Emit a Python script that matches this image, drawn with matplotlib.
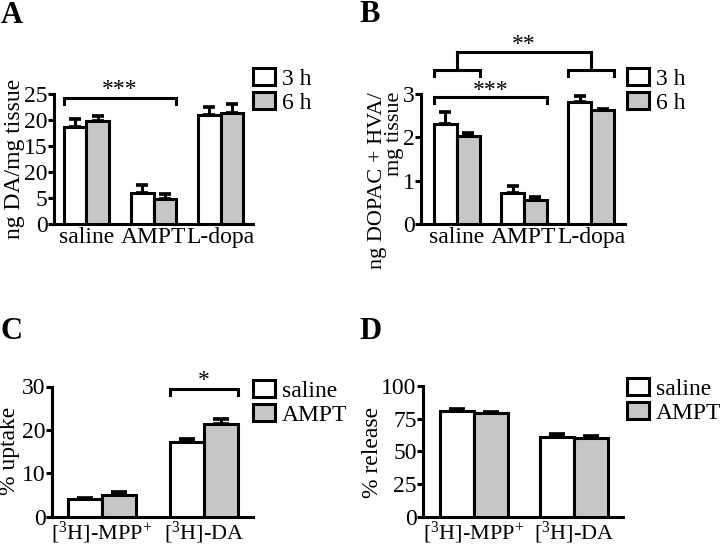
import numpy as np
import matplotlib.pyplot as plt

plt.rcParams['font.family'] = ['Liberation Serif', 'DejaVu Serif']
plt.rcParams['mathtext.fontset'] = 'custom'
plt.rcParams['mathtext.rm'] = 'Liberation Serif'
plt.rcParams['mathtext.it'] = 'Liberation Serif:italic'

# Panel A: DA content
a_groups = ['saline', 'AMPT', 'L-dopa']
a_3h = [18.7, 6.0, 20.9]
a_3h_err = [1.4, 1.5, 1.6]
a_6h = [19.8, 4.75, 21.4]
a_6h_err = [1.0, 0.95, 1.6]
a_yticks = [0, 5, 10, 15, 20, 25]
a_yticklabels = ['0', '5', '20', '15', '20', '25']

# Panel B: DOPAC + HVA content
b_groups = ['saline', 'AMPT', 'L-dopa']
b_3h = [2.30, 0.71, 2.82]
b_3h_err = [0.29, 0.17, 0.13]
b_6h = [2.03, 0.55, 2.62]
b_6h_err = [0.06, 0.07, 0.04]
b_yticks = [0, 1, 2, 3]

# Panel C: uptake
c_groups = [r'[$\mathregular{^{3}}$H]-MPP$\mathregular{^{+}}$', r'[$\mathregular{^{3}}$H]-DA']
c_saline = [4.0, 17.1]
c_saline_err = [0.4, 0.8]
c_ampt = [5.0, 21.4]
c_ampt_err = [0.7, 1.1]
c_yticks = [0, 10, 20, 30]

# Panel D: release
d_groups = c_groups
d_saline = [80.9, 61.2]
d_saline_err = [1.5, 2.3]
d_ampt = [79.1, 59.9]
d_ampt_err = [0.7, 2.1]
d_yticks = [0, 25, 50, 75, 100]

W, H = 720, 548
GRAY = '#c6c6c6'
LW = 2.2
FS = 17

fig = plt.figure(figsize=(W / 100, H / 100), dpi=100)


def px_axes(left, right, bottom, top):
    return fig.add_axes([left / W, 1 - bottom / H, (right - left) / W, (bottom - top) / H])


def bar_panel(ax, groups, s1, e1, s2, e2, width, capsize, xlim, ylim, yticks,
              yticklabels=None, xfs=FS):
    x = np.arange(len(groups))
    b1 = ax.bar(x - width / 2, s1, width, color='white', edgecolor='black', linewidth=LW, zorder=3)
    b2 = ax.bar(x + width / 2, s2, width, color=GRAY, edgecolor='black', linewidth=LW, zorder=3)
    for xs, vals, errs in [(x - width / 2, s1, e1), (x + width / 2, s2, e2)]:
        ax.errorbar(xs, vals, yerr=[np.zeros(len(errs)), errs], fmt='none', ecolor='black',
                    elinewidth=LW, capsize=capsize, capthick=LW * 1.2, zorder=2)
    ax.set_xlim(*xlim)
    ax.set_ylim(*ylim)
    ax.set_xticks(x)
    ax.set_xticklabels(groups, fontsize=xfs)
    ax.set_yticks(yticks)
    ax.set_yticklabels(yticklabels if yticklabels else [str(t) for t in yticks], fontsize=FS)
    ax.tick_params(axis='x', length=0, pad=2)
    ax.tick_params(axis='y', length=4, width=LW, pad=0.5)
    for side in ['top', 'right']:
        ax.spines[side].set_visible(False)
    for side in ['left', 'bottom']:
        ax.spines[side].set_linewidth(LW)
    ax.spines['left'].set_capstyle('projecting')
    ax.patch.set_visible(False)
    return b1, b2


def bracket(ax, x0, x1, y, drop, text=None, text_pad=0.0):
    ax.plot([x0, x0, x1, x1], [y - drop, y, y, y - drop], color='black', lw=LW,
            clip_on=False, solid_joinstyle='miter')
    if text:
        ax.text((x0 + x1) / 2, y + text_pad, text, ha='center', va='bottom', fontsize=FS)


def legend(ax, handles, labels, px, py):
    ax.legend(handles, labels, loc='upper left', bbox_to_anchor=(px / W, 1 - py / H),
              bbox_transform=fig.transFigure, frameon=False, fontsize=FS,
              handlelength=0.92, handleheight=0.74, handletextpad=0.3, labelspacing=0.1,
              borderpad=0, borderaxespad=0)


# ---- A ----
axA = px_axes(54, 253, 224, 94)
wA = 0.343
hA = bar_panel(axA, a_groups, a_3h, a_3h_err, a_6h, a_6h_err, wA, 4.3,
               (-0.485, 2.485), (0, 25), a_yticks, a_yticklabels)
bracket(axA, 0 - wA, 1 + wA, 24.3, 1.2, '***', -0.4)
legend(axA, hA, ['3 h', '6 h'], 253, 68)
fig.text(15 / W, 1 - 159 / H, 'ng DA/mg tissue', rotation=90, ha='center', va='center', fontsize=FS)
fig.text(1 / W, 1 - 1 / H, 'A', fontsize=22, fontweight='bold', ha='left', va='top')

# ---- B ----
axB = px_axes(421, 625, 224, 94)
wB = 0.343
hB = bar_panel(axB, b_groups, b_3h, b_3h_err, b_6h, b_6h_err, wB, 4.3,
               (-0.537, 2.507), (0, 3), b_yticks)
bracket(axB, 0 - wB, 1 + wB, 2.92, 0.13, '***', -0.07)
# group comparison saline vs L-dopa
for g in [0, 2]:
    bracket(axB, g - wB, g + wB, 3.55, 0.14)
    axB.plot([g, g], [3.55, 3.97], color='black', lw=LW, clip_on=False)
bracket(axB, 0, 2, 3.97, 0.0, '**', -0.08)
legend(axB, hB, ['3 h', '6 h'], 627, 68)
fig.text(386 / W, 1 - 92 / H, 'ng DOPAC + HVA/\nmg tissue', rotation=90, ha='center', va='top',
         multialignment='right', fontsize=16, linespacing=0.88)
fig.text(359 / W, 1 - 0 / H, 'B', fontsize=22, fontweight='bold', ha='left', va='top')

# ---- C ----
axC = px_axes(52, 253, 516.7, 386.5)
wC = 0.333
hC = bar_panel(axC, c_groups, c_saline, c_saline_err, c_ampt, c_ampt_err, wC, 5.5,
               (-0.49, 1.48), (0, 30), c_yticks, xfs=16)
bracket(axC, 1 - wC, 1 + wC, 29.5, 1.4, '*', -0.5)
legend(axC, hC, ['saline', 'AMPT'], 253, 380)
fig.text(10 / W, 1 - 451 / H, '% uptake', rotation=90, ha='center', va='center', fontsize=FS)
fig.text(1 / W, 1 - 317 / H, 'C', fontsize=22, fontweight='bold', ha='left', va='top')

# ---- D ----
axD = px_axes(423, 623, 516.7, 386)
wD = 0.34
hD = bar_panel(axD, d_groups, d_saline, d_saline_err, d_ampt, d_ampt_err, wD, 5.5,
               (-0.51, 1.49), (0, 100), d_yticks, xfs=16)
legend(axD, hD, ['saline', 'AMPT'], 627, 378)
fig.text(372 / W, 1 - 452 / H, '% release', rotation=90, ha='center', va='center', fontsize=FS)
fig.text(359 / W, 1 - 317 / H, 'D', fontsize=22, fontweight='bold', ha='left', va='top')

fig.savefig('out.png', dpi=100)
